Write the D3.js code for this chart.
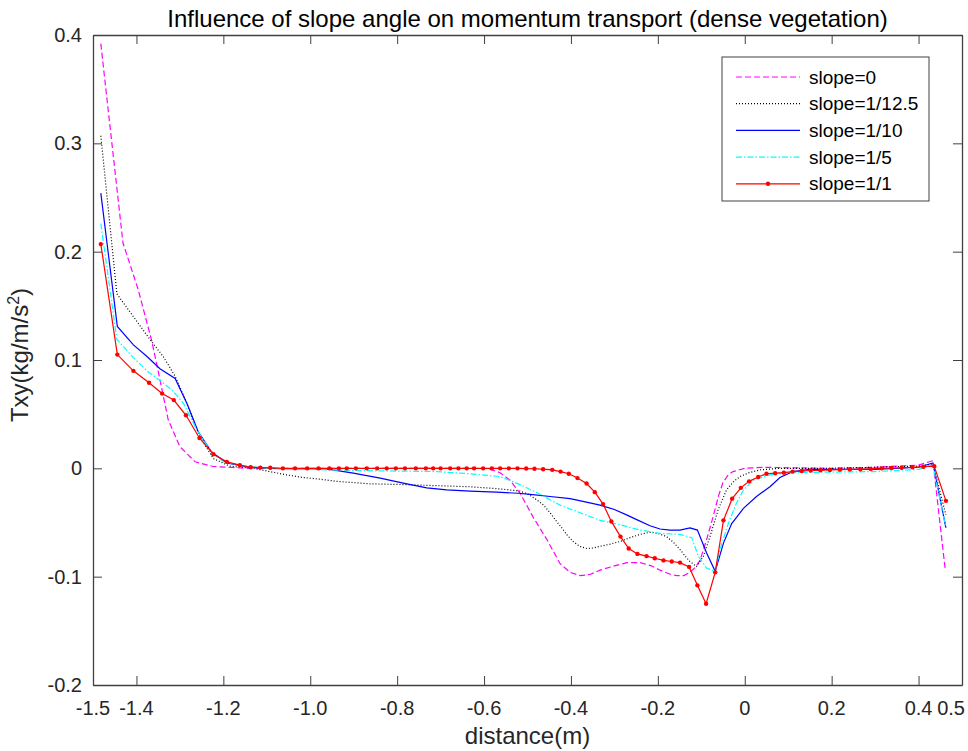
<!DOCTYPE html>
<html>
<head>
    <title>Slope angle vs momentum transport</title>
    <script type="text/javascript" src="https://cdn.jsdelivr.net/npm/d3@7"></script>
    <style>
        html, body { margin: 0; padding: 0; background: #fff; overflow: hidden; }
        svg { display: block; }
        text { font-family: "Liberation Sans", Arial, Helvetica, sans-serif; }
    </style>
</head>
<body>
    <svg width="968" height="751" id="mainsvg"></svg>
    <script>
        // data: [distance (m), Txy]
        const slope0 = [[-1.482, 0.392], [-1.431, 0.208], [-1.396, 0.165], [-1.365, 0.118], [-1.346, 0.082],
        [-1.327, 0.045], [-1.300, 0.020], [-1.265, 0.006], [-1.223, 0.0017], [-1.15, 0.0002], [-1.0, 0], [-0.8, 0],
        [-0.6, 0], [-0.585, -0.001], [-0.563, -0.004], [-0.540, -0.011], [-0.517, -0.023], [-0.487, -0.045],
        [-0.455, -0.066], [-0.425, -0.088], [-0.402, -0.096], [-0.379, -0.099], [-0.356, -0.098], [-0.333, -0.094],
        [-0.300, -0.090], [-0.271, -0.087], [-0.241, -0.087], [-0.215, -0.090], [-0.195, -0.094], [-0.170, -0.098],
        [-0.156, -0.099], [-0.140, -0.099], [-0.126, -0.096], [-0.113, -0.091], [-0.103, -0.085], [-0.088, -0.066],
        [-0.073, -0.045], [-0.060, -0.025], [-0.050, -0.013], [-0.038, -0.006], [-0.027, -0.003], [0.0, 0],
        [0.042, 0.001], [0.1, 0.0005], [0.2, 0], [0.3, 0.001], [0.4, 0.003], [0.433, 0.007], [0.461, -0.092]];

        const slope12_5 = [[-1.482, 0.307], [-1.445, 0.161], [-1.407, 0.140], [-1.369, 0.119], [-1.338, 0.103],
        [-1.311, 0.085], [-1.284, 0.060], [-1.254, 0.029], [-1.223, 0.009], [-1.185, 0.002], [-1.131, 0],
        [-1.093, -0.003], [-1.055, -0.006], [-1.016, -0.0085], [-0.978, -0.010], [-0.939, -0.012], [-0.862, -0.0143],
        [-0.786, -0.015], [-0.709, -0.016], [-0.632, -0.017], [-0.563, -0.019], [-0.517, -0.021], [-0.498, -0.024],
        [-0.479, -0.029], [-0.463, -0.034], [-0.448, -0.041], [-0.435, -0.048], [-0.421, -0.055], [-0.408, -0.062],
        [-0.395, -0.0675], [-0.380, -0.072], [-0.364, -0.074], [-0.348, -0.0735], [-0.333, -0.072], [-0.310, -0.070],
        [-0.287, -0.0675], [-0.264, -0.064], [-0.241, -0.061], [-0.218, -0.059], [-0.200, -0.060], [-0.180, -0.063],
        [-0.165, -0.068], [-0.149, -0.075], [-0.137, -0.081], [-0.126, -0.086], [-0.111, -0.0906], [-0.095, -0.081],
        [-0.080, -0.063], [-0.061, -0.038], [-0.042, -0.020], [-0.025, -0.012], [-0.011, -0.0076], [0.010, -0.004],
        [0.035, -0.0014], [0.081, 0], [0.2, 0], [0.3, 0.001], [0.4, 0.002], [0.433, 0.004], [0.463, -0.043]];

        const slope10 = [[-1.482, 0.254], [-1.444, 0.131], [-1.407, 0.114], [-1.375, 0.103], [-1.346, 0.092],
        [-1.311, 0.083], [-1.284, 0.060], [-1.258, 0.034], [-1.227, 0.015], [-1.192, 0.005], [-1.146, 0.0014],
        [-1.1, 0], [-1.0, -0.0005], [-0.955, -0.001], [-0.901, -0.0044], [-0.839, -0.009], [-0.786, -0.0137],
        [-0.732, -0.018], [-0.686, -0.0198], [-0.632, -0.021], [-0.571, -0.022], [-0.521, -0.023], [-0.494, -0.024],
        [-0.448, -0.026], [-0.402, -0.028], [-0.367, -0.031], [-0.333, -0.034], [-0.300, -0.038], [-0.272, -0.043],
        [-0.245, -0.048], [-0.218, -0.053], [-0.195, -0.056], [-0.172, -0.057], [-0.149, -0.057], [-0.126, -0.055],
        [-0.109, -0.057], [-0.088, -0.078], [-0.068, -0.095], [-0.049, -0.069], [-0.030, -0.051], [-0.003, -0.037],
        [0.027, -0.026], [0.058, -0.017], [0.081, -0.0085], [0.11, -0.003], [0.15, -0.001], [0.3, -0.001],
        [0.4, 0.001], [0.433, 0.005], [0.463, -0.055]];

        const slope5 = [[-1.482, 0.226], [-1.445, 0.119], [-1.407, 0.102], [-1.373, 0.089], [-1.342, 0.080],
        [-1.315, 0.071], [-1.292, 0.060], [-1.261, 0.0355], [-1.231, 0.017], [-1.200, 0.006], [-1.146, 0.002],
        [-1.1, 0], [-0.9, -0.002], [-0.709, -0.003], [-0.632, -0.005], [-0.563, -0.0076], [-0.517, -0.015],
        [-0.471, -0.024], [-0.425, -0.034], [-0.379, -0.041], [-0.333, -0.048], [-0.287, -0.052], [-0.241, -0.057],
        [-0.195, -0.060], [-0.149, -0.061], [-0.122, -0.064], [-0.107, -0.081], [-0.088, -0.092], [-0.068, -0.095],
        [-0.057, -0.075], [-0.038, -0.051], [-0.019, -0.032], [-0.003, -0.020], [0.020, -0.011], [0.058, -0.006],
        [0.1, -0.004], [0.3, -0.003], [0.4, -0.001], [0.433, 0.003], [0.463, -0.055]];

        const slope1 = [[-1.482, 0.207], [-1.444, 0.105], [-1.407, 0.090], [-1.371, 0.079], [-1.341, 0.069],
        [-1.314, 0.063], [-1.286, 0.049], [-1.255, 0.028], [-1.223, 0.013], [-1.192, 0.006], [-1.162, 0.003],
        [-1.137, 0.001], [-1.115, 0.0007], [-1.092, 0.0005], [-1.063, 0], [-1.035, 0], [-1.007, 0], [-0.981, 0],
        [-0.956, 0], [-0.934, 0], [-0.916, 0], [-0.895, 0], [-0.870, 0], [-0.846, 0], [-0.824, 0], [-0.803, 0],
        [-0.782, 0], [-0.757, 0], [-0.734, 0], [-0.717, 0], [-0.700, 0], [-0.678, 0], [-0.659, 0], [-0.640, 0],
        [-0.623, 0], [-0.602, 0], [-0.582, 0], [-0.563, 0], [-0.543, 0], [-0.523, 0], [-0.503, -0.0002],
        [-0.484, -0.0004], [-0.464, -0.0008], [-0.443, -0.0014], [-0.424, -0.003], [-0.405, -0.005],
        [-0.385, -0.009], [-0.364, -0.014], [-0.345, -0.022], [-0.326, -0.033], [-0.307, -0.049], [-0.286, -0.063],
        [-0.267, -0.074], [-0.247, -0.079], [-0.226, -0.081], [-0.207, -0.083], [-0.187, -0.085], [-0.168, -0.086],
        [-0.149, -0.087], [-0.128, -0.091], [-0.109, -0.108], [-0.089, -0.125], [-0.068, -0.096], [-0.049, -0.048],
        [-0.029, -0.028], [-0.009, -0.018], [0.010, -0.012], [0.031, -0.008], [0.050, -0.005], [0.070, -0.0045],
        [0.090, -0.004], [0.110, -0.003], [0.131, -0.0025], [0.152, -0.002], [0.174, -0.0018], [0.196, -0.0015],
        [0.219, -0.0012], [0.242, -0.001], [0.266, -0.0008], [0.290, -0.0005], [0.315, 0], [0.338, 0.0003],
        [0.361, 0.0005], [0.386, 0.001], [0.411, 0.0015], [0.436, 0.002], [0.463, -0.030]];

        const seriesNames = ['slope=0', 'slope=1/12.5', 'slope=1/10', 'slope=1/5', 'slope=1/1'];
        const xTicks = [-1.5, -1.4, -1.2, -1.0, -0.8, -0.6, -0.4, -0.2, 0, 0.2, 0.4, 0.5];
        const xTickLabels = ['-1.5', '-1.4', '-1.2', '-1.0', '-0.8', '-0.6', '-0.4', '-0.2', '0', '0.2', '0.4', '0.5'];
        const yTicks = [-0.2, -0.1, 0, 0.1, 0.2, 0.3, 0.4];
        const yTickLabels = ['-0.2', '-0.1', '0', '0.1', '0.2', '0.3', '0.4'];

        // line style for each series, same order as seriesNames
        const styles = [
            { data: slope0, color: '#ff00ff', dash: '6,3', marker: false },
            { data: slope12_5, color: '#000000', dash: '1,2', marker: false },
            { data: slope10, color: '#0000ff', dash: null, marker: false },
            { data: slope5, color: '#00ffff', dash: '6,2,1.5,2', marker: false },
            { data: slope1, color: '#ff0000', dash: null, marker: true }
        ];

        const svg = d3.select('#mainsvg');
        const width = +svg.attr('width');
        const height = +svg.attr('height');
        const margin = { top: 35, right: 6, bottom: 66, left: 93 };
        const innerWidth = width - margin.left - margin.right;
        const innerHeight = height - margin.top - margin.bottom;
        const axisColor = '#404040';

        const g = svg.append('g').attr('id', 'maingroup')
            .attr('transform', `translate(${margin.left}, ${margin.top})`);

        const xScale = d3.scaleLinear().domain([-1.5, 0.5]).range([0, innerWidth]);
        const yScale = d3.scaleLinear().domain([-0.2, 0.4]).range([innerHeight, 0]);

        // clip so nothing leaks outside the box
        svg.append('defs').append('clipPath').attr('id', 'clip')
            .append('rect').attr('width', innerWidth).attr('height', innerHeight);

        const line = d3.line().x(d => xScale(d[0])).y(d => yScale(d[1]));
        const plot = g.append('g').attr('clip-path', 'url(#clip)');

        styles.forEach(s => {
            plot.append('path')
                .datum(s.data)
                .attr('d', line)
                .attr('fill', 'none')
                .attr('stroke', s.color)
                .attr('stroke-width', 1.2)
                .attr('stroke-dasharray', s.dash);
            if (s.marker) {
                plot.selectAll(null).data(s.data).join('circle')
                    .attr('cx', d => xScale(d[0]))
                    .attr('cy', d => yScale(d[1]))
                    .attr('r', 2.2)
                    .attr('fill', s.color);
            }
        });

        // axes: ticks pointing inward on all four sides (matlab box), labels drawn separately
        const xAxis = g.append('g').attr('transform', `translate(0,${innerHeight})`)
            .call(d3.axisBottom(xScale).tickValues(xTicks).tickSizeInner(-9).tickSizeOuter(0));
        const xAxisTop = g.append('g')
            .call(d3.axisTop(xScale).tickValues(xTicks).tickSizeInner(-9).tickSizeOuter(0));
        const yAxis = g.append('g')
            .call(d3.axisLeft(yScale).tickValues(yTicks).tickSizeInner(-9).tickSizeOuter(0));
        const yAxisRight = g.append('g').attr('transform', `translate(${innerWidth},0)`)
            .call(d3.axisRight(yScale).tickValues(yTicks).tickSizeInner(-9).tickSizeOuter(0));

        [xAxis, xAxisTop, yAxis, yAxisRight].forEach(a => {
            a.selectAll('.tick text').remove();
            a.select('.domain').attr('stroke', axisColor).attr('stroke-width', 1.3);
            a.selectAll('.tick line').attr('stroke', axisColor).attr('stroke-width', 1);
        });

        // tick labels; the last one is right-aligned so it stays inside the window
        const lastX = xTicks.length - 1;
        g.selectAll('.xlabel').data(xTicks).join('text')
            .attr('class', 'xlabel')
            .attr('x', (d, i) => xScale(d) + (i === lastX ? 3 : 0))
            .attr('y', innerHeight + 30)
            .attr('text-anchor', (d, i) => i === lastX ? 'end' : 'middle')
            .attr('font-size', '20px').attr('fill', '#262626')
            .text((d, i) => xTickLabels[i]);

        g.selectAll('.ylabel').data(yTicks).join('text')
            .attr('class', 'ylabel')
            .attr('x', -11)
            .attr('y', d => yScale(d))
            .attr('dy', '0.35em')
            .attr('text-anchor', 'end')
            .attr('font-size', '20px').attr('fill', '#262626')
            .text((d, i) => yTickLabels[i]);

        // titles
        g.append('text').text('Influence of slope angle on momentum transport (dense vegetation)')
            .attr('x', innerWidth / 2).attr('y', -8)
            .attr('text-anchor', 'middle').attr('font-size', '24px').attr('fill', '#000');

        g.append('text').text('distance(m)')
            .attr('x', innerWidth / 2).attr('y', innerHeight + 59)
            .attr('text-anchor', 'middle').attr('font-size', '24px').attr('fill', '#262626');

        const yLabel = g.append('text')
            .attr('transform', `translate(-65,${innerHeight / 2 - 5}) rotate(-90)`)
            .attr('text-anchor', 'middle').attr('font-size', '24px').attr('fill', '#262626');
        yLabel.append('tspan').text('Txy(kg/m/s');
        yLabel.append('tspan').text('2').attr('font-size', '16px').attr('dy', -9);
        yLabel.append('tspan').text(')').attr('dy', 9);

        // legend
        const legend = g.append('g').attr('transform', `translate(${722 - margin.left},${57 - margin.top})`);
        legend.append('rect').attr('width', 207).attr('height', 144)
            .attr('fill', '#fff').attr('stroke', axisColor).attr('stroke-width', 1);
        styles.forEach((s, i) => {
            const yy = 20 + i * 26.7;
            legend.append('line')
                .attr('x1', 14).attr('x2', 78).attr('y1', yy).attr('y2', yy)
                .attr('stroke', s.color).attr('stroke-width', 1.2)
                .attr('stroke-dasharray', s.dash);
            if (s.marker) {
                legend.append('circle').attr('cx', 46).attr('cy', yy).attr('r', 2.2).attr('fill', s.color);
            }
            legend.append('text').text(seriesNames[i])
                .attr('x', 87).attr('y', yy).attr('dy', '0.35em')
                .attr('font-size', '19px').attr('fill', '#000');
        });
    </script>
</body>
</html>
